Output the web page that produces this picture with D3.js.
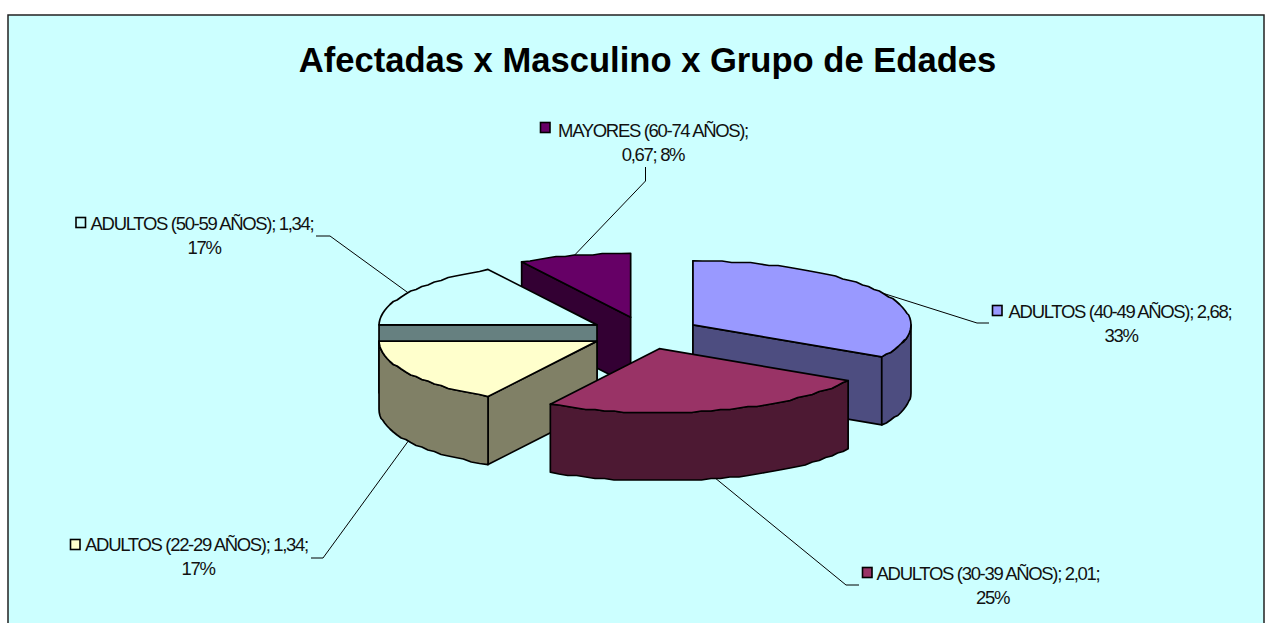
<!DOCTYPE html>
<html><head><meta charset="utf-8">
<script src="https://cdn.jsdelivr.net/npm/d3@7/dist/d3.min.js"></script>
<style>html,body{margin:0;padding:0;background:#fff}svg{display:block}</style>
</head><body><svg id="c" width="1272" height="623"></svg>
<script>
const titleText = "Afectadas x Masculino x Grupo de Edades";
const categories = ["ADULTOS (40-49 AÑOS)","ADULTOS (30-39 AÑOS)","ADULTOS (22-29 AÑOS)","ADULTOS (50-59 AÑOS)","MAYORES (60-74 AÑOS)"];
const values = [2.68,2.01,1.34,1.34,0.67];
const valueLabels = ["2,68","2,01","1,34","1,34","0,67"];
const percentLabels = ["33%","25%","17%","17%","8%"];
const topColors = ["#9999FF","#993366","#FFFFCC","#CCFFFF","#660066"];
const sideColors = ["#4D4D80","#4D1933","#808066","#668080","#330033"];

const cx=645, cy=333, rx=218, ry=64, depth=68, explode=55.4;
const svg=d3.select("#c");
svg.append("rect").attr("x",8).attr("y",15).attr("width",1256).attr("height",620)
  .attr("fill","#CCFFFF").attr("stroke","#222").attr("stroke-width",1.5);
svg.append("text").attr("x",647.5).attr("y",72).attr("text-anchor","middle")
  .attr("font-family","'Liberation Sans',Arial,sans-serif").attr("font-weight","bold")
  .attr("font-size",34.6).text(titleText);

const pie=d3.pie().sort(null).startAngle(0).endAngle(2*Math.PI)(values);
const sx=d3.scaleLinear().domain([-1,1]).range([-rx,rx]);
const sy=d3.scaleLinear().domain([-1,1]).range([-ry,ry]);
const slices=pie.map((p,i)=>{
  const mid=(p.startAngle+p.endAngle)/2;
  return {i,a0:p.startAngle,a1:p.endAngle,mid,ax:cx+explode*Math.sin(mid),ay:cy-explode*(ry/rx)*Math.cos(mid)};
});
const pt=(s,a,dy=0)=>[s.ax+sx(Math.sin(a)), s.ay-sy(Math.cos(a))+dy];
// the rim is a coarse polyline, as in the rough rendering of the original
const arcPts=(s,a0,a1,dy=0)=>{
  const n=Math.max(4,Math.round(Math.abs(a1-a0)/0.045));
  return d3.range(0,n+1).map(k=>{
    const p=pt(s,a0+(a1-a0)*k/n,dy);
    return (k===0||k===n)?p:[p[0],Math.round(p[1]/1.5)*1.5];
  });
};
const line=d3.line();

// leader lines: start on each slice's rim, then elbow and end beside its label
const leaderLayout=[
 {elbow:[977,323],end:[989,323],wall:false},
 {elbow:[846,585],end:[859,585],wall:true},
 {elbow:[323,558],end:[311,558],wall:true},
 {elbow:[330,236],end:[316,236],wall:false},
 {elbow:[645.5,181],end:[645.5,167],wall:false}
];
leaderLayout.forEach((l,i)=>{
  const start=pt(slices[i],slices[i].mid,l.wall?depth:0);
  svg.append("path").attr("d",line([start,l.elbow,l.end])).attr("fill","none").attr("stroke","#000").attr("stroke-width",1);
});

const g=svg.append("g").attr("stroke","#000").attr("stroke-width",1.7).attr("stroke-linejoin","round");
const poly=(pts,fill)=>g.append("path").attr("d",line(pts)+"Z").attr("fill",fill);
const drawOrder=[4,0,3,2,1];
// which straight cut faces turn toward the viewer: [start edge, end edge]
const cutFaces=[[true,true],[false,false],[true,false],[true,false],[true,false]];
drawOrder.forEach(i=>{
  const s=slices[i], apex=[s.ax,s.ay], apexB=[s.ax,s.ay+depth], f=sideColors[i];
  if(cutFaces[i][0]) poly([apex,pt(s,s.a0),pt(s,s.a0,depth),apexB],f);
  if(cutFaces[i][1]) poly([apex,pt(s,s.a1),pt(s,s.a1,depth),apexB],f);
  const lo=Math.max(s.a0,Math.PI/2), hi=Math.min(s.a1,3*Math.PI/2);
  if(lo<hi) poly([...arcPts(s,lo,hi),...arcPts(s,hi,lo,depth)],f);
  poly([apex,...arcPts(s,s.a0,s.a1)],topColors[i]);
});

const labelLayout=[
 {x1:1120,x2:1121,y:318,sw:992.5,sy:305.5},
 {x1:988,x2:992.5,y:580,sw:862.5,sy:567.5},
 {x1:196.5,x2:198,y:551,sw:70.5,sy:539.5},
 {x1:202,x2:204,y:230,sw:76,sy:217.5},
 {x1:653,x2:653,y:137,sw:540.5,sy:122.5}
];
labelLayout.forEach((l,i)=>{
  const lines = i===4 ? [`${categories[i]};`,`${valueLabels[i]}; ${percentLabels[i]}`]
                      : [`${categories[i]}; ${valueLabels[i]};`,percentLabels[i]];
  lines.forEach((t,k)=>svg.append("text").attr("x",k?l.x2:l.x1).attr("y",l.y+k*24)
    .attr("text-anchor","middle").attr("font-family","'Liberation Sans',Arial,sans-serif")
    .attr("font-size",18.5).attr("letter-spacing",-1.32).attr("fill","#111").text(t));
  svg.append("rect").attr("x",l.sw).attr("y",l.sy).attr("width",9.5).attr("height",10)
    .attr("fill",topColors[i]).attr("stroke","#000").attr("stroke-width",1.6);
});
</script></body></html>
